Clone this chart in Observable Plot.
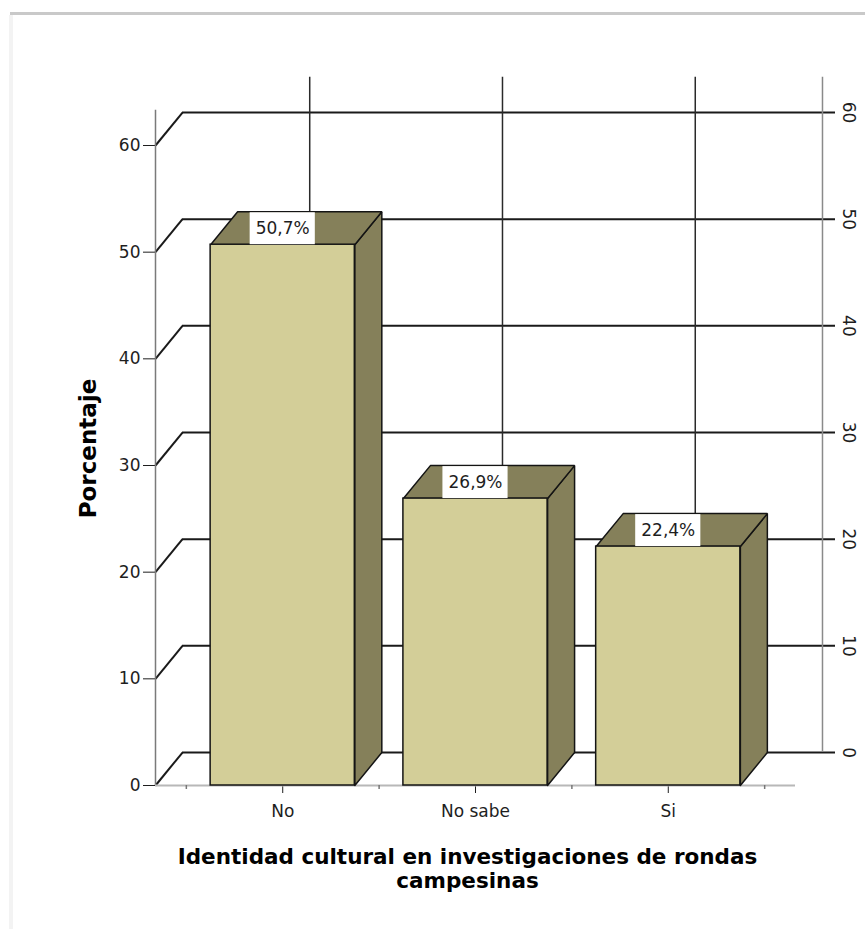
<!DOCTYPE html>
<html><head><meta charset="utf-8">
<script src="https://cdn.jsdelivr.net/npm/d3@7"></script>
<script src="https://cdn.jsdelivr.net/npm/@observablehq/plot@0.6"></script>
<style>
html,body{margin:0;padding:0;background:#fff;}
#chart{position:relative;width:865px;height:929px;overflow:hidden;background:#fff;}
#chart svg{position:absolute;left:0;top:0;}
.topline{position:absolute;left:10px;top:12px;width:855px;height:3px;background:#c9c9c9;z-index:2;}
.leftline{position:absolute;left:9px;top:15px;width:4px;bottom:0;background:#f3f3f3;z-index:2;}
</style></head><body>
<div id="chart"><div class="topline"></div><div class="leftline"></div></div>
<script>
// ---- data ----
const categories = ["No", "No sabe", "Si"];
const percentages = [50.7, 26.9, 22.4];
const valueLabels = ["50,7%", "26,9%", "22,4%"];
const yTicks = [0, 10, 20, 30, 40, 50, 60];
const yLabel = "Porcentaje";
const xLabel = "Identidad cultural en investigaciones de rondas\ncampesinas";

// ---- layout (in scale units) ----
const xMin = -0.66, xMax = 2.66;   // category axis extent
const half = 0.374;                // half bar width
const dX = 0.14, dY = 3.09;        // 3D depth offset
const yTop = 63.3;                 // top of vertical axis lines
const labelHalf = 0.169;           // half width of value label box
const rightExt = 0.0675;           // right axis tick extension
const minorLen = 0.375;            // minor tick length

const frontColor = "#d3ce98", sideColor = "#85805a", edge = "#141414";

const bars = categories.map((c, i) => ({i, c, v: percentages[i], label: valueLabels[i]}));
const sidePts = bars.flatMap(b => [
  [b.i + half, 0], [b.i + half + dX, dY], [b.i + half + dX, b.v + dY], [b.i + half, b.v], [b.i + half, 0]
].map(([x, y]) => ({i: b.i, x, y})));
const topPts = bars.flatMap(b => [
  [b.i - half, b.v], [b.i + half, b.v], [b.i + half + dX, b.v + dY], [b.i - half + dX, b.v + dY], [b.i - half, b.v]
].map(([x, y]) => ({i: b.i, x, y})));
const catIdx = categories.map((c, i) => i);
const minorTicks = categories.map((c, i) => i - 0.5).concat([categories.length - 0.5]);

const chart = Plot.plot({
  width: 865,
  height: 929,
  marginLeft: 155,
  marginRight: 70,
  marginTop: 145,
  marginBottom: 144,
  style: {fontFamily: "DejaVu Sans, sans-serif", fontSize: "17px", color: "#1e1e1e", background: "transparent", overflow: "visible"},
  x: {domain: [xMin, xMax], ticks: catIdx, tickFormat: i => categories[i], tickSize: 8, tickPadding: 11, label: null},
  y: {domain: [0, 60], ticks: yTicks, tickSize: 12, tickPadding: 3, label: null},
  marks: [
    // back wall horizontal gridlines
    Plot.ruleY(yTicks, {y: d => d + dY, x1: xMin + dX, x2: xMax + dX + rightExt, stroke: "#1a1a1a", strokeWidth: 2}),
    // diagonal connectors (left side wall)
    Plot.link(yTicks, {x1: xMin, y1: d => d, x2: xMin + dX, y2: d => d + dY, stroke: "#1a1a1a", strokeWidth: 2}),
    // back vertical gridlines at categories
    Plot.ruleX(catIdx, {x: d => d + dX, y1: dY, y2: yTop + dY, stroke: "#2a2a2a", strokeWidth: 1.5}),
    // back right axis line
    Plot.ruleX([xMax + dX], {y1: dY, y2: yTop + dY, stroke: "#8a8a8a", strokeWidth: 1.5}),
    // right axis labels (rotated)
    Plot.text(yTicks, {x: xMax + dX, y: d => d + dY, text: d => String(d), rotate: 90, dx: 26, fontSize: 17, fill: "#1e1e1e"}),
    // front left axis line
    Plot.ruleX([xMin], {y1: 0, y2: yTop, stroke: "#7a7a7a", strokeWidth: 1.5}),
    // bottom front axis line
    Plot.ruleY([0], {x1: xMin, x2: xMax, stroke: "#b8b8b8", strokeWidth: 2}),
    // minor ticks
    Plot.ruleX(minorTicks, {y1: 0, y2: -minorLen, stroke: "#777", strokeWidth: 1.5}),
    // bar side faces
    Plot.line(sidePts, {x: "x", y: "y", z: "i", fill: sideColor, stroke: edge, strokeWidth: 1.5, strokeLinejoin: "miter", curve: "linear"}),
    // bar top faces
    Plot.line(topPts, {x: "x", y: "y", z: "i", fill: sideColor, stroke: edge, strokeWidth: 1.5, strokeLinejoin: "miter", curve: "linear"}),
    // bar front faces
    Plot.rect(bars, {x1: d => d.i - half, x2: d => d.i + half, y1: 0, y2: "v", fill: frontColor, stroke: edge, strokeWidth: 1.5}),
    // value label boxes
    Plot.rect(bars, {x1: d => d.i - labelHalf, x2: d => d.i + labelHalf, y1: "v", y2: d => d.v + dY, fill: "white", insetTop: 1}),
    Plot.text(bars, {x: "i", y: d => d.v + dY / 2, text: "label", fontSize: 17, fill: "#1e1e1e"}),
    // axis titles
    Plot.text([yLabel], {frameAnchor: "left", textAnchor: "middle", text: d => d, dx: -67, dy: -17, rotate: -90, fontWeight: "bold", fontSize: 23, fill: "#000"}),
    Plot.text([xLabel], {frameAnchor: "bottom", textAnchor: "middle", text: d => d, lineAnchor: "top", dy: 62, dx: -8, fontWeight: "bold", fontSize: 21.5, lineHeight: 1.1, fill: "#000"})
  ]
});
document.getElementById("chart").appendChild(chart);
</script>
</body></html>
